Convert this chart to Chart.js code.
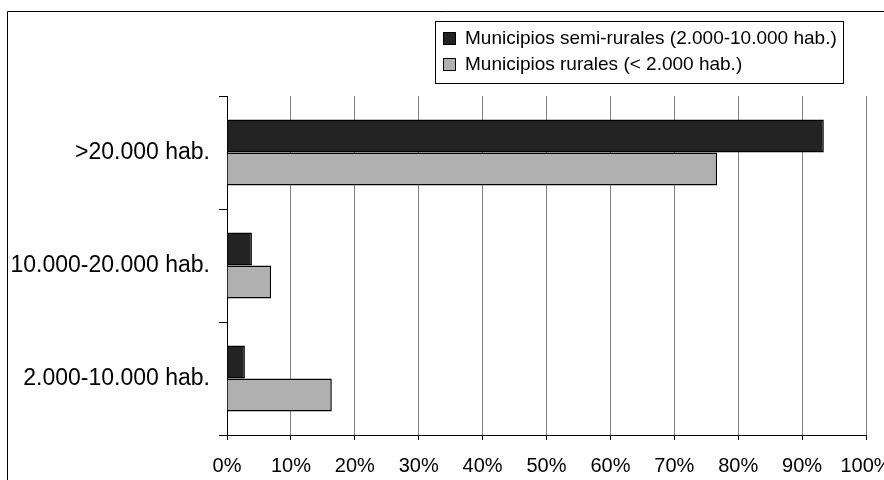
<!DOCTYPE html>
<html>
<head>
<meta charset="utf-8">
<script src="https://cdn.jsdelivr.net/npm/chart.js@4.4.1/dist/chart.umd.min.js"></script>
<style>
  html, body { margin: 0; padding: 0; background: #fff; }
  #wrap { width: 884px; height: 480px; }
</style>
</head>
<body>
<div id="wrap"><canvas id="c" width="884" height="480"></canvas></div>
<script>
// Tamaño de los municipios de destino
const categories = ['>20.000 hab.', '10.000-20.000 hab.', '2.000-10.000 hab.'];
const seriesNames = ['Municipios semi-rurales (2.000-10.000 hab.)', 'Municipios rurales (< 2.000 hab.)'];
const semiRurales = [93.4, 3.9, 2.8];
const rurales = [76.7, 6.9, 16.4];
const xTicks = [0, 10, 20, 30, 40, 50, 60, 70, 80, 90, 100];

const FONT = '"Liberation Sans", Arial, sans-serif';

// Marco exterior y leyenda con recuadro
const framePlugin = {
  id: 'frame',
  beforeDraw(chart) {
    const ctx = chart.ctx;
    ctx.save();
    ctx.fillStyle = '#fff';
    ctx.fillRect(0, 0, chart.width, chart.height);
    ctx.strokeStyle = '#000';
    ctx.lineWidth = 1;
    ctx.beginPath();
    ctx.moveTo(7.5, chart.height + 5);
    ctx.lineTo(7.5, 11.5);
    ctx.lineTo(chart.width + 5, 11.5);
    ctx.stroke();
    ctx.restore();
  },
  afterDraw(chart) {
    const ctx = chart.ctx;
    ctx.save();
    ctx.fillStyle = '#fff';
    ctx.fillRect(435, 21, 408, 62);
    ctx.strokeStyle = '#000';
    ctx.lineWidth = 1;
    ctx.strokeRect(435.5, 21.5, 408, 62);
    ctx.font = '19px ' + FONT;
    ctx.textBaseline = 'middle';
    ctx.textAlign = 'left';
    chart.data.datasets.forEach((ds, i) => {
      const cy = 38 + i * 26;
      ctx.fillStyle = ds.backgroundColor;
      ctx.fillRect(443, cy - 6, 13, 13);
      ctx.strokeStyle = '#000';
      ctx.strokeRect(443.5, cy - 5.5, 12, 12);
      ctx.fillStyle = '#000';
      ctx.fillText(ds.label, 465, cy + 1);
    });
    ctx.restore();
  }
};

new Chart(document.getElementById('c'), {
  type: 'bar',
  data: {
    labels: categories,
    datasets: [
      { label: seriesNames[0], data: semiRurales, backgroundColor: '#232323', borderColor: '#000', borderWidth: 1.5 },
      { label: seriesNames[1], data: rurales, backgroundColor: '#b0b0b0', borderColor: '#000', borderWidth: 1.5 }
    ]
  },
  options: {
    indexAxis: 'y',
    responsive: false,
    animation: false,
    devicePixelRatio: 1,
    datasets: { bar: { categoryPercentage: 0.582, barPercentage: 1 } },
    layout: { padding: { top: 96, right: 18, left: 0, bottom: 0 } },
    plugins: { legend: { display: false }, tooltip: { enabled: false } },
    scales: {
      x: {
        type: 'linear',
        min: 0,
        max: 100,
        afterBuildTicks(scale) { scale.ticks = xTicks.map(v => ({ value: v })); },
        afterFit(scale) { scale.height = 45; scale.paddingLeft = 0; scale.paddingRight = 0; },
        border: { color: '#000', width: 1 },
        grid: { color: '#808080', tickColor: '#000', tickLength: 5, lineWidth: 1 },
        ticks: {
          color: '#000',
          font: { family: FONT, size: 20 },
          padding: 14,
          maxRotation: 0,
          autoSkip: false,
          callback: v => v + '%'
        }
      },
      y: {
        afterFit(scale) { scale.width = 227; },
        border: { color: '#000', width: 1 },
        grid: { offset: true, drawOnChartArea: false, color: '#000', tickLength: 8 },
        ticks: {
          color: '#000',
          font: { family: FONT, size: 23 },
          padding: 9
        }
      }
    }
  },
  plugins: [framePlugin]
});
</script>
</body>
</html>
